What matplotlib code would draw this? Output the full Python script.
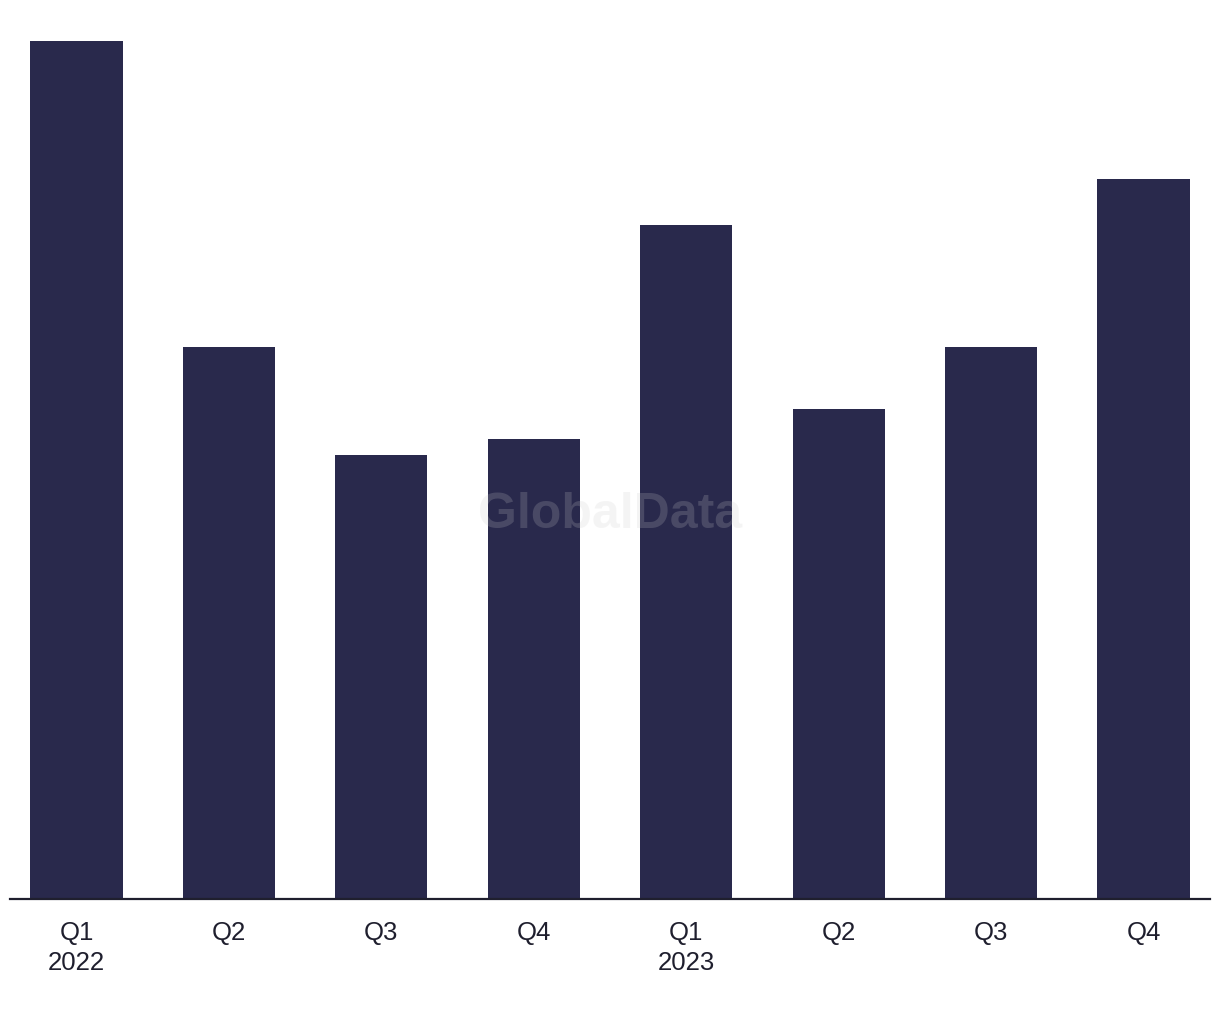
import matplotlib
matplotlib.use("Agg")
import matplotlib.pyplot as plt

# quarterly values (no y axis shown, relative heights)
quarters = ["Q1", "Q2", "Q3", "Q4", "Q1", "Q2", "Q3", "Q4"]
years = ["2022", "", "", "", "2023", "", "", ""]
values = [56, 36, 29, 30, 44, 32, 36, 47]

bar_color = "#29294c"
text_color = "#1f1f2e"

plt.rcParams["font.family"] = ["Liberation Sans", "DejaVu Sans"]

fig = plt.figure(figsize=(12.2, 10.2), dpi=100)
ax = fig.add_axes([10 / 1220, 120 / 1020, 1200 / 1220, 858 / 1020])

x = list(range(len(values)))
ax.bar(x, values, width=0.605, color=bar_color, zorder=2)

ax.set_xlim(-0.436, len(values) - 1 + 0.436)
ax.set_ylim(0, 56)

labels = [q + ("\n" + y if y else "") for q, y in zip(quarters, years)]
ax.set_xticks(x)
ax.set_xticklabels(labels, fontsize=18.5, color=text_color, linespacing=1.3,
                   va="top")
ax.tick_params(axis="x", length=0, pad=15)
ax.set_yticks([])

for s in ["top", "right", "left"]:
    ax.spines[s].set_visible(False)
ax.spines["bottom"].set_color(text_color)
ax.spines["bottom"].set_linewidth(1.6)

# watermark
fig.text(610 / 1220, 1 - 515 / 1020, "GlobalData", fontsize=36, fontweight="bold",
         color="#cccccc", alpha=0.2, ha="center", va="center", zorder=10)

fig.savefig("out.png", dpi=100, facecolor="white")
